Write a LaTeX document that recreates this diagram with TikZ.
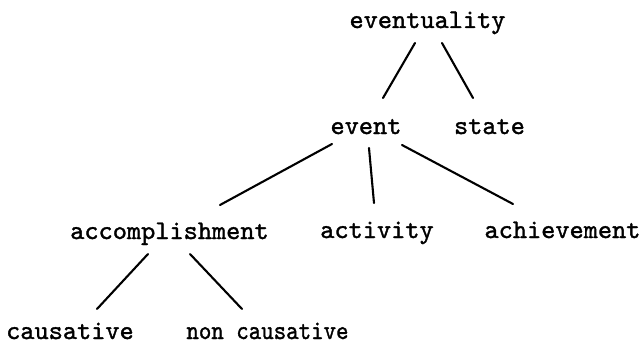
\documentclass[tikz,border=0pt]{standalone}
\usepackage{fontspec}
\setmonofont{lmmono10-regular.otf}[AutoFakeBold=1.3]
\usetikzlibrary{calc}
\begin{document}
\begin{tikzpicture}[x=1pt,y=-1pt,
  term/.style={anchor=base,inner sep=0pt,font=\fontsize{27}{30}\selectfont\ttfamily\bfseries},
  branch/.style={line width=2.1pt,line cap=round}]
\useasboundingbox (0,0) rectangle (640,345);
% categories, placed by their baselines
\node[term] (evt) at (427.5,28) {eventuality};
\node[term] (ev)  at (366,134) {event};
\node[term] (st)  at (489.5,134) {state};
\node[term] (acc) at (169.5,239) {accomplishment};
\node[term] (act) at (377,238) {activity};
\node[term] (ach) at (562.5,238) {achievement};
\node[term] (cau) at (70,339) {causative};
\node[term] (ncau) at (267.5,339) {\scalebox{0.88}[1]{non causative}};
% tree branches
\draw[branch] ($(evt.base)+(-12.5,15)$) -- ($(ev.base)+(17,-36)$);
\draw[branch] ($(evt.base)+(14.5,15)$) -- ($(st.base)+(-16.5,-36)$);
\draw[branch] ($(ev.base)+(-34,10)$) -- ($(acc.base)+(50.5,-34)$);
\draw[branch] ($(ev.base)+(3,14)$) -- ($(act.base)+(-3,-35)$);
\draw[branch] ($(ev.base)+(36,11)$) -- ($(ach.base)+(-49.5,-34)$);
\draw[branch] ($(acc.base)+(-21.5,15)$) -- ($(cau.base)+(27,-30)$);
\draw[branch] ($(acc.base)+(20.5,15)$) -- ($(ncau.base)+(-25.5,-30)$);
\end{tikzpicture}
\end{document}
